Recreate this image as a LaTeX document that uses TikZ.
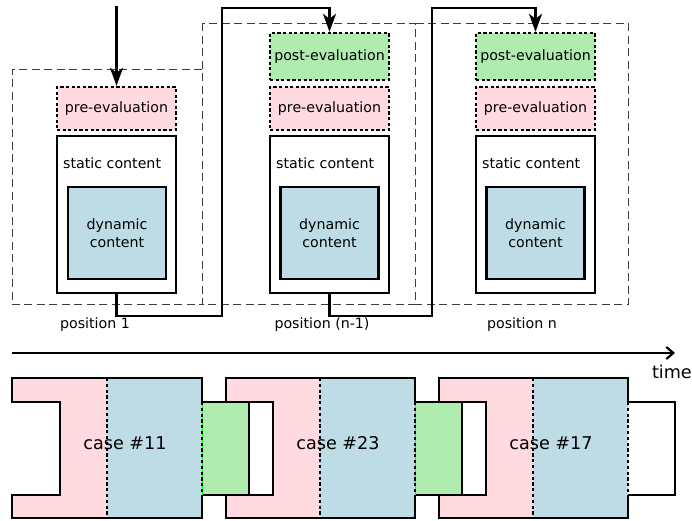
\documentclass[tikz,border=0pt]{standalone}
\usepackage{fontspec}
\setmainfont{DejaVu Sans}
\usepackage{tikz}
\usetikzlibrary{arrows.meta}
\definecolor{prepink}{RGB}{255,218,224}
\definecolor{dynblue}{RGB}{190,220,229}
\definecolor{postgreen}{RGB}{176,236,176}
\definecolor{framegray}{RGB}{60,60,60}

\begin{document}
\begin{tikzpicture}[x=1pt,y=-1pt,
  font=\fontsize{14.2}{18}\selectfont,
  posframe/.style={draw=framegray, line width=1pt, dash pattern=on 8pt off 4.5pt},
  evalbox/.style={draw, line width=2.4pt, dash pattern=on 3.2pt off 2.4pt, inner sep=0pt, minimum width=119pt, minimum height=43pt},
  prebox/.style={evalbox, fill=prepink},
  postbox/.style={evalbox, fill=postgreen, minimum height=47pt},
  staticbox/.style={draw, line width=2.4pt, minimum width=119pt, minimum height=157pt},
  dynbox/.style={draw, line width=2.4pt, fill=dynblue, minimum width=98pt, minimum height=92pt, align=center, inner sep=0pt},
  flow/.style={line width=2.4pt, -{Stealth[length=18pt,width=13pt,inset=5pt]}},
  edge/.style={line width=2.4pt},
  cut/.style={line width=2.4pt, dash pattern=on 3.2pt off 2.6pt},
  bigtext/.style={font=\fontsize{17.6}{20}\selectfont, inner sep=0pt}]
			\useasboundingbox (0,0) rectangle (692,520);
			
			% frames
			\draw[posframe] (202,69) -- (12,69) -- (12,304.5) -- (202,304.5);
			\draw[posframe] (202,23) rectangle (415.5,304.5);
			\draw[posframe] (415.5,23) -- (628,23) -- (628,304.5) -- (415.5,304.5);
			
			% position 1
			\node[prebox] (pre1) at (116.5,108.5) {pre-evaluation};
			\node[staticbox] (static1) at (116.5,214.5) {};
			\node[anchor=west, inner sep=0pt] (stxt1) at (63,163) {static content};
			\node[dynbox] (dyn1) at (117,233) {dynamic\\content};
			\node (lbl1) at (95,325) {position 1};
			
			% position n-1
			\node[postbox] (post2) at (329.5,56.5) {post-evaluation};
			\node[prebox] (pre2) at (329.5,108.5) {pre-evaluation};
			\node[staticbox] (static2) at (329.5,214.5) {};
			\node[anchor=west, inner sep=0pt] (stxt2) at (276,163) {static content};
			\node[dynbox] (dyn2) at (329.5,233) {dynamic\\content};
			\node (lbl2) at (322,325) {position (n-1)};
			
			% position n
			\node[postbox] (post3) at (535.5,56.5) {post-evaluation};
			\node[prebox] (pre3) at (535.5,108.5) {pre-evaluation};
			\node[staticbox] (static3) at (535.5,214.5) {};
			\node[anchor=west, inner sep=0pt] (stxt3) at (482,163) {static content};
			\node[dynbox] (dyn3) at (535.5,233) {dynamic\\content};
			\node (lbl3) at (522,325) {position n};
			
			% flow
			\coordinate (in) at (116.5,6);
			\coordinate (turn1) at (222,8);
			\coordinate (turn2) at (432,8);
			\draw[flow] (in) -- (pre1.north);
			\draw[flow] (static1.south) -- ++(0,22) -| (turn1) -| (post2.north);
			\draw[flow] (static2.south) -- ++(0,22) -| (turn2) -| (post3.north);
			
			% time axis
			\coordinate (t0) at (12,353);
			\coordinate (t1) at (675,353);
			\draw[line width=2.2pt, -{Straight Barb[length=7pt,width=12pt]}] (t0) -- (t1);
			\node[bigtext, anchor=east] (timelbl) at (692,372) {time};
			
			% case #11
			\fill[prepink] (12,378) -- (107,378) -- (107,518) -- (12,518) -- (12,495) -- (60,495) -- (60,402) -- (12,402) -- cycle;
			\fill[dynblue] (107,378) rectangle (202,518);
			\fill[postgreen] (202,402) rectangle (249,495);
			\draw[edge] (202,402) -- (202,378) -- (12,378) -- (12,402) -- (60,402) -- (60,495) -- (12,495) -- (12,518) -- (202,518) -- (202,495);
			\draw[edge] (202,402) -- (249,402) -- (249,495) -- (202,495);
			\draw[green, line width=1pt] (202,402) -- (202,495);
			\draw[cut] (107,378) -- (107,518);
			\draw[cut] (202,402) -- (202,495);
			\node[bigtext] (case11) at (125,443) {case \#11};
			
			% case #23
			\fill[prepink] (226,378) -- (320,378) -- (320,518) -- (226,518) -- (226,495) -- (273,495) -- (273,402) -- (226,402) -- cycle;
			\fill[dynblue] (320,378) rectangle (415,518);
			\fill[postgreen] (415,402) rectangle (462,495);
			\draw[edge] (415,402) -- (415,378) -- (226,378) -- (226,402) -- (273,402) -- (273,495) -- (226,495) -- (226,518) -- (415,518) -- (415,495);
			\draw[edge] (415,402) -- (462,402) -- (462,495) -- (415,495);
			\draw[green, line width=1pt] (415,402) -- (415,495);
			\draw[cut] (320,378) -- (320,518);
			\draw[cut] (415,402) -- (415,495);
			\node[bigtext] (case23) at (338,443) {case \#23};
			
			% case #17
			\fill[prepink] (439,378) -- (533,378) -- (533,518) -- (439,518) -- (439,495) -- (486,495) -- (486,402) -- (439,402) -- cycle;
			\fill[dynblue] (533,378) rectangle (628,518);
			\draw[edge] (628,402) -- (628,378) -- (439,378) -- (439,402) -- (486,402) -- (486,495) -- (439,495) -- (439,518) -- (628,518) -- (628,495);
			\draw[edge] (628,402) -- (675,402) -- (675,495) -- (628,495);
			\draw[cut] (533,378) -- (533,518);
			\draw[cut] (628,402) -- (628,495);
			\node[bigtext] (case17) at (551,443) {case \#17};
		\end{tikzpicture}
\end{document}
